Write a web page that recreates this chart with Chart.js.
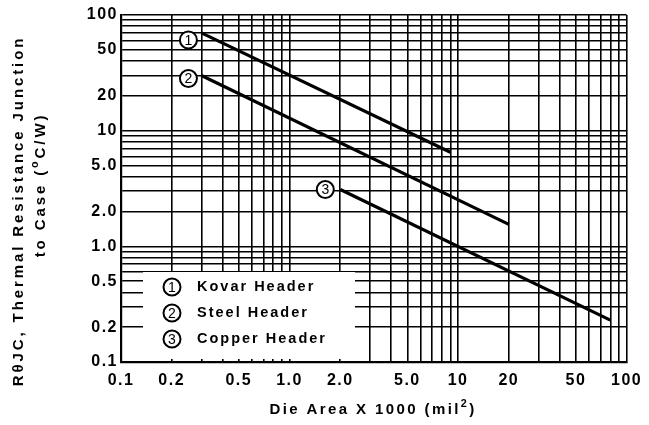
<!DOCTYPE html>
<html>
<head>
  <title>Thermal Resistance vs Die Area</title>
  <script src="https://cdn.jsdelivr.net/npm/chart.js@4.4.0/dist/chart.umd.min.js"></script>
  <style>body { margin: 0; background: #fff; }</style>
</head>
<body>
  <canvas id="thermalChart" width="649" height="425"></canvas>

  <script>
    // curves (die area x1000 mil^2 -> R theta JC)
    const kovarArea = [0.3, 9];
    const kovarR = [70, 6.5];
    const steelArea = [0.3, 20];
    const steelR = [30, 1.55];
    const copperArea = [2, 80];
    const copperR = [3.1, 0.23];

    const headerNames = ['Kovar Header', 'Steel Header', 'Copper Header'];

    const xTickValues = [0.1, 0.2, 0.5, 1, 2, 5, 10, 20, 50, 100];
    const xTickLabels = ['0.1', '0.2', '0.5', '1.0', '2.0', '5.0', '10', '20', '50', '100'];
    const yTickValues = [0.1, 0.2, 0.5, 1, 2, 5, 10, 20, 50, 100];
    const yTickLabels = ['0.1', '0.2', '0.5', '1.0', '2.0', '5.0', '10', '20', '50', '100'];

    const FONT = '"Liberation Sans", Arial, sans-serif';

    // log paper: a grid line at every 1..9 of each decade
    const gridValues = [];
    [0.1, 1, 10].forEach(d => {
      for (let k = 1; k <= 9; k++) gridValues.push(Number((k * d).toPrecision(3)));
    });
    gridValues.push(100);

    function toPoints(xs, ys) {
      return xs.map((x, i) => ({ x: x, y: ys[i] }));
    }

    function labeler(vals, labels) {
      return function(value) {
        const i = vals.findIndex(v => Math.abs(v - value) < v * 1e-6);
        return i < 0 ? '' : labels[i];
      };
    }

    // draws text pieces, some raised as superscript, centred on x
    function drawSpans(ctx, spans, x, y, size) {
      let total = 0;
      spans.forEach(s => {
        ctx.font = 'bold ' + (s.sup ? size * 0.72 : size) + 'px ' + FONT;
        s.w = ctx.measureText(s.text).width;
        total += s.w;
      });
      let cx = x - total / 2;
      ctx.textAlign = 'left';
      ctx.textBaseline = 'middle';
      spans.forEach(s => {
        ctx.font = 'bold ' + (s.sup ? size * 0.72 : size) + 'px ' + FONT;
        ctx.fillText(s.text, cx, s.sup ? y - size * 0.4 : y);
        cx += s.w;
      });
    }

    function drawCircled(ctx, cx, cy, n) {
      ctx.beginPath();
      ctx.arc(cx, cy, 8.5, 0, Math.PI * 2);
      ctx.fillStyle = '#fff';
      ctx.fill();
      ctx.lineWidth = 2;
      ctx.strokeStyle = '#000';
      ctx.stroke();
      ctx.fillStyle = '#000';
      ctx.font = '14px ' + FONT;
      ctx.textAlign = 'center';
      ctx.textBaseline = 'middle';
      ctx.letterSpacing = '0px';
      ctx.fillText(String(n), cx, cy + 1);
    }

    const paperPlugin = {
      id: 'paper',
      beforeDraw(chart) {
        chart.ctx.letterSpacing = '1.5px';
      },
      afterDatasetsDraw(chart) {
        const ctx = chart.ctx;
        const area = chart.chartArea;
        const xs = chart.scales.x, ys = chart.scales.y;
        ctx.save();

        // curve labels next to the start of each line
        const starts = [[kovarArea[0], kovarR[0], -13, 7], [steelArea[0], steelR[0], -13, 3], [copperArea[0], copperR[0], -15, 0]];
        starts.forEach((s, i) => {
          drawCircled(ctx, xs.getPixelForValue(s[0]) + s[2], ys.getPixelForValue(s[1]) + s[3], i + 1);
        });

        // key box in the lower left corner
        const bx = area.left + 22, by = area.bottom - 90;
        ctx.fillStyle = '#fff';
        ctx.fillRect(bx, by, 212, 87);
        headerNames.forEach((name, i) => {
          const rowY = by + 15 + i * 26;
          drawCircled(ctx, bx + 29, rowY, i + 1);
          ctx.fillStyle = '#000';
          ctx.font = 'bold 14.5px ' + FONT;
          ctx.letterSpacing = '2px';
          ctx.textAlign = 'left';
          ctx.textBaseline = 'middle';
          ctx.fillText(name, bx + 54, rowY);
        });
        ctx.restore();
      },
      afterDraw(chart) {
        const ctx = chart.ctx;
        ctx.save();
        ctx.fillStyle = '#000';
        ctx.letterSpacing = '2.4px';
        drawSpans(ctx, [{ text: 'Die Area X 1000 (mil' }, { text: '2', sup: true }, { text: ')' }], 373, 410, 15);

        ctx.translate(19, 211);
        ctx.rotate(-Math.PI / 2);
        ctx.letterSpacing = '2.9px';
        drawSpans(ctx, [{ text: 'R\u03B8JC, Thermal Resistance Junction' }], 0, 0, 15);
        ctx.translate(26, 22);
        drawSpans(ctx, [{ text: 'to Case (' }, { text: 'o', sup: true }, { text: 'C/W)' }], 0, 0, 15);
        ctx.restore();
      }
    };

    const axisGrid = { color: '#000', lineWidth: 1.6, drawTicks: false };
    const axisBorder = { color: '#000', width: 2.2 };
    const tickFont = { family: FONT, size: 16, weight: 'bold' };

    const ctx = document.getElementById('thermalChart').getContext('2d');
    new Chart(ctx, {
      type: 'line',
      data: {
        datasets: [
          { label: headerNames[0], data: toPoints(kovarArea, kovarR) },
          { label: headerNames[1], data: toPoints(steelArea, steelR) },
          { label: headerNames[2], data: toPoints(copperArea, copperR) }
        ].map(ds => Object.assign(ds, {
          borderColor: '#000',
          borderWidth: 3.2,
          pointRadius: 0,
          fill: false,
          tension: 0
        }))
      },
      options: {
        responsive: false,
        animation: false,
        layout: { padding: { top: 15, right: 20, left: 0, bottom: 0 } },
        plugins: {
          legend: { display: false },
          tooltip: { enabled: false }
        },
        scales: {
          x: {
            type: 'logarithmic',
            min: 0.1,
            max: 100,
            afterBuildTicks: s => { s.ticks = gridValues.map(v => ({ value: v })); },
            afterFit: s => { s.height = 63; },
            grid: axisGrid,
            border: axisBorder,
            ticks: {
              autoSkip: false,
              maxRotation: 0,
              padding: 9,
              color: '#000',
              font: tickFont,
              callback: labeler(xTickValues, xTickLabels)
            }
          },
          y: {
            type: 'logarithmic',
            min: 0.1,
            max: 100,
            afterBuildTicks: s => { s.ticks = gridValues.map(v => ({ value: v })); },
            afterFit: s => { s.width = 121; },
            grid: axisGrid,
            border: axisBorder,
            ticks: {
              autoSkip: false,
              padding: 3,
              color: '#000',
              font: tickFont,
              callback: labeler(yTickValues, yTickLabels)
            }
          }
        }
      },
      plugins: [paperPlugin]
    });
  </script>
</body>
</html>
